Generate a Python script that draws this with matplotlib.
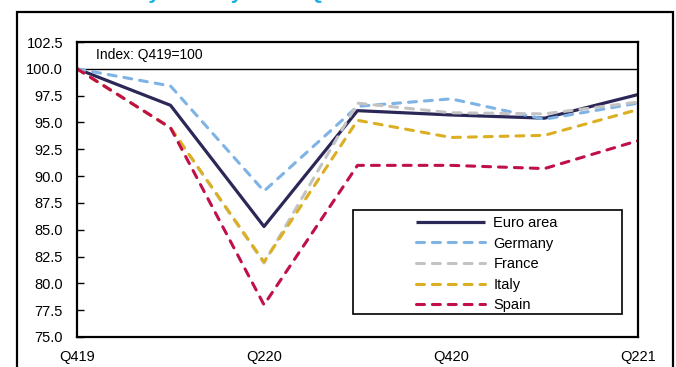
import matplotlib.pyplot as plt
from matplotlib.patches import Rectangle

plt.rcParams['font.family'] = ['Liberation Sans', 'DejaVu Sans']

# Quarters (index, Q4 2019 = 100)
quarters = ['Q419', 'Q120', 'Q220', 'Q320', 'Q420', 'Q121', 'Q221']
tick_labels = ['Q419', '', 'Q220', '', 'Q420', '', 'Q221']

euro_area = [100.0, 96.6, 85.3, 96.1, 95.7, 95.4, 97.6]
germany = [100.0, 98.4, 88.6, 96.5, 97.2, 95.3, 96.8]
france = [100.0, 94.5, 81.9, 96.8, 95.9, 95.8, 96.9]
italy = [100.0, 94.5, 82.0, 95.2, 93.6, 93.8, 96.2]
spain = [100.0, 94.5, 78.0, 91.0, 91.0, 90.7, 93.3]

series = [
    ('Euro area', euro_area, '#2b2858', '-'),
    ('Germany', germany, '#7fb3e6', '--'),
    ('France', france, '#c3c3c3', '--'),
    ('Italy', italy, '#dcaf22', '--'),
    ('Spain', spain, '#c0104a', '--'),
]

fig = plt.figure(figsize=(6.76, 3.67), dpi=100)
ax = fig.add_axes([77 / 676, 30 / 367, 561 / 676, 295 / 367])

x = range(len(quarters))
handles = []
for name, vals, color, ls in series:
    if ls == '-':
        line, = ax.plot(x, vals, color=color, lw=2.3, solid_capstyle='butt')
    else:
        line, = ax.plot(x, vals, color=color, lw=2.2, linestyle=(0, (2.6, 2.6)),
                        dash_capstyle='round')
    handles.append(line)

ax.axhline(100, color='black', lw=1.0, zorder=1)
ax.text(0.2, 101.25, 'Index: Q419=100', fontsize=10, va='center', ha='left')

ax.set_xlim(0, len(quarters) - 1)
ax.set_ylim(75, 102.5)
ax.set_yticks([75 + 2.5 * i for i in range(12)])
ax.set_yticklabels([f'{75 + 2.5 * i:.1f}' for i in range(12)])
ax.set_xticks(list(x))
ax.set_xticklabels(tick_labels)
ax.tick_params(axis='y', direction='in', length=5, width=1, labelsize=10.5, pad=10)
ax.tick_params(axis='x', length=0, labelsize=10.5, pad=9)
for s in ax.spines.values():
    s.set_linewidth(1.6)
    s.set_color('black')

# legend with its own box
box = Rectangle((353 / 676, 1 - 314 / 367), 269 / 676, 104 / 367,
                transform=fig.transFigure, fill=True, facecolor='white',
                edgecolor='black', lw=1.2, zorder=5)
fig.add_artist(box)
leg = fig.legend(handles, [s[0] for s in series], loc='upper left',
                 bbox_to_anchor=(416 / 676, 1 - 216 / 367), frameon=False,
                 fontsize=10.5, handlelength=4.7, handletextpad=0.6,
                 labelspacing=0.45, borderpad=0, borderaxespad=0)
leg.set_zorder(6)

# outer frame and header
frame = Rectangle((17 / 676, -0.05), 656 / 676, 1.05 - 12 / 367,
                  transform=fig.transFigure, fill=False, edgecolor='black',
                  lw=1.6, clip_on=False)
fig.add_artist(frame)
fig.text(35 / 676, 1 + 1 / 367, 'Real GDP by country since Q4 2019',
         color='#1ab0e8', fontsize=15, fontweight='bold', va='baseline', ha='left')

fig.savefig('out.png', dpi=100)
